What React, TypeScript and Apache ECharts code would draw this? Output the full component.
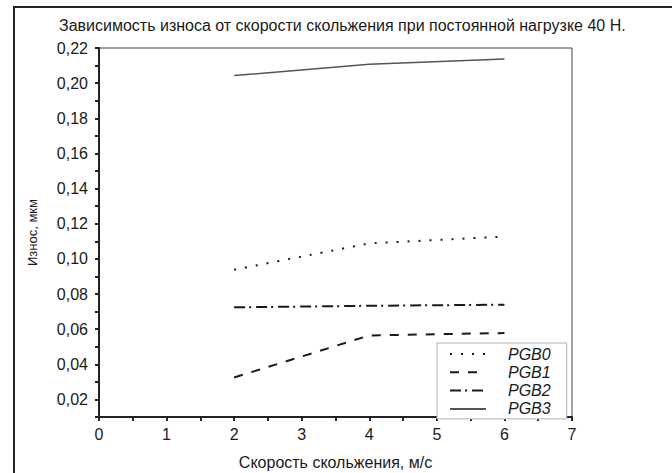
import React, { useEffect, useRef } from "react";
import * as echarts from "echarts";

const speeds = [2, 4, 6];
const pgb0 = [0.0938, 0.1088, 0.1127];
const pgb1 = [0.0325, 0.0564, 0.0578];
const pgb2 = [0.0724, 0.0733, 0.0739];
const pgb3 = [0.2043, 0.2108, 0.2137];
const seriesNames = ["PGB0", "PGB1", "PGB2", "PGB3"];
const titleText = "Зависимость износа от скорости скольжения при постоянной нагрузке 40 Н.";
const xName = "Скорость скольжения, м/с";
const yName = "Износ, мкм";

const FONT = "'Liberation Sans', Arial, sans-serif";

export default function App() {
  const ref = useRef<HTMLDivElement>(null);
  useEffect(() => {
    if (!ref.current) return;
    const chart = echarts.init(ref.current, undefined, { renderer: "svg" });
    const toPairs = (ys: number[]) => speeds.map((x, i) => [x, ys[i]]);
    const lineSeries = (name: string, ys: number[], type: any, color: string, width: number) => ({
      name,
      type: "line",
      data: toPairs(ys),
      symbol: "none",
      smooth: false,
      lineStyle: { color, width, type },
      itemStyle: { color },
    });
    chart.setOption({
      animation: false,
      backgroundColor: "#fff",
      textStyle: { fontFamily: FONT },
      graphic: [
        {
          type: "rect",
          shape: { x: 14, y: 7, width: 720, height: 520 },
          style: { fill: "none", stroke: "#222", lineWidth: 2 },
          silent: true,
        },
        {
          type: "text",
          x: 59,
          y: 25,
          style: {
            text: titleText,
            fontFamily: FONT,
            fontSize: 16,
            fill: "#1a1a1a",
            verticalAlign: "middle",
          },
        },
      ],
      grid: {
        left: 99,
        right: 100,
        top: 48,
        bottom: 56,
        show: true,
        borderColor: "#444",
        borderWidth: 1,
        containLabel: false,
        outerBoundsMode: "none",
      },
      legend: {
        data: seriesNames,
        orient: "vertical",
        left: 437,
        top: 343,
        itemWidth: 36,
        itemHeight: 10,
        itemGap: 0.3,
        padding: [2, 16, 1, 12],
        borderColor: "#b0b0b0",
        borderWidth: 1,
        backgroundColor: "#fff",
        itemStyle: { opacity: 0 },
        textStyle: {
          fontFamily: FONT,
          fontSize: 16,
          fontStyle: "italic",
          color: "#1a1a1a",
          lineHeight: 18,
          padding: [0, 0, 0, 17],
        },
      },
      xAxis: {
        type: "value",
        min: 0,
        max: 7,
        interval: 0.5,
        name: xName,
        nameLocation: "middle",
        nameGap: 37,
        nameTextStyle: { fontFamily: FONT, fontSize: 16, color: "#1a1a1a" },
        axisLine: { show: true, onZero: false, lineStyle: { color: "#222", width: 2 } },
        axisTick: { show: true, inside: false, length: 4, lineStyle: { color: "#222", width: 2 } },
        splitLine: { show: false },
        axisLabel: {
          margin: 9,
          fontFamily: FONT,
          fontSize: 16,
          color: "#1a1a1a",
          formatter: (v: number) => (Math.abs(v - Math.round(v)) < 1e-6 ? String(Math.round(v)) : ""),
        },
      },
      yAxis: {
        type: "value",
        min: 0.01,
        max: 0.22,
        interval: 0.01,
        name: yName,
        nameLocation: "middle",
        nameGap: 60,
        nameTextStyle: { fontFamily: FONT, fontSize: 13, color: "#1a1a1a" },
        axisLine: { show: true, onZero: false, lineStyle: { color: "#222", width: 2 } },
        axisTick: { show: true, inside: false, length: 4, lineStyle: { color: "#222", width: 2 } },
        splitLine: { show: false },
        axisLabel: {
          margin: 11,
          fontFamily: FONT,
          fontSize: 16,
          color: "#1a1a1a",
          formatter: (v: number) => {
            const k = Math.round(v * 100);
            return k % 2 === 0 ? (k / 100).toFixed(2).replace(".", ",") : "";
          },
        },
      },
      series: [
        lineSeries("PGB0", pgb0, [2, 9], "#1a1a1a", 2),
        lineSeries("PGB1", pgb1, [9, 9], "#1a1a1a", 2),
        lineSeries("PGB2", pgb2, [11, 4, 2, 5], "#1a1a1a", 2),
        lineSeries("PGB3", pgb3, "solid", "#555", 1.5),
      ],
    });
    return () => chart.dispose();
  }, []);
  return <div ref={ref} style={{ width: 672, height: 473, position: "absolute", left: 0, top: 0 }} />;
}
